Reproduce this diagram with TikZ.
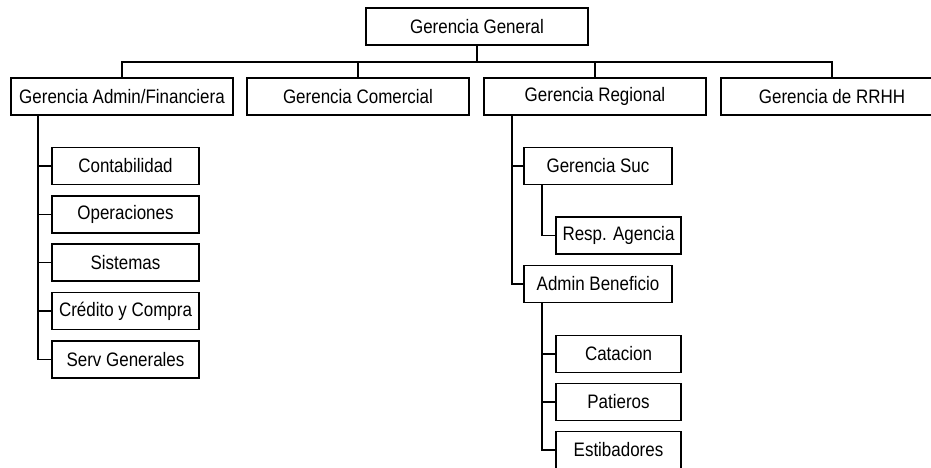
\documentclass[tikz,border=0pt]{standalone}
\usepackage{fontspec}
\setmainfont{Liberation Sans}
\newfontfamily\chartfont[FakeStretch=0.87]{Liberation Sans}
\begin{document}
\begin{tikzpicture}[x=1pt,y=-1pt,
  unit/.style={draw, line width=1.3pt, rectangle, inner sep=0pt,
    minimum height=37pt, font=\chartfont\fontsize{19.5}{22}\selectfont},
  top/.style={unit, minimum width=222pt},
  sub/.style={unit, minimum width=148pt},
  leaf/.style={unit, minimum width=125pt},
  link/.style={line width=1.3pt}]
\clip (0,0) rectangle (931,468);
\fill[white] (0,0) rectangle (931,468);

% head of the organisation
\node[top] (gg) at (477,26.5) {Gerencia General};

% managements
\node[top] (adm) at (122,96.5) {Gerencia Admin/Financiera};
\node[top] (com) at (358,96.5) {Gerencia Comercial};
\node[top] (reg) at (595,96.5) {Gerencia Regional};
\node[top] (rrhh) at (832,96.5) {Gerencia de RRHH};

\coordinate (bus) at (477,62);
\draw[link] (gg.south) -- (bus);
\foreach \n in {adm,com,reg,rrhh} \draw[link] (\n.north) |- (bus);

% administration / finance departments
\node[sub, minimum width=147pt] (cont) at (125.5,166) {Contabilidad};
\node[sub, minimum width=147pt] (oper) at (125.5,214.5) {Operaciones};
\node[sub, minimum width=147pt] (sist) at (125.5,262.5) {Sistemas};
\node[sub, minimum width=147pt] (cred) at (125.5,311) {Crédito y Compra};
\node[sub, minimum width=147pt] (serv) at (125.5,359.5) {Serv Generales};

\coordinate (admstem) at (38,115);
\foreach \n in {cont,oper,sist,cred,serv} \draw[link] (admstem) |- (\n.west);

% regional structure
\node[sub] (suc) at (598,166) {Gerencia Suc};
\node[sub] (ben) at (598,284) {Admin Beneficio};
\coordinate (regstem) at (512,115);
\foreach \n in {suc,ben} \draw[link] (regstem) |- (\n.west);

\node[leaf] (resp) at (618.5,235.5) {Resp. Agencia};
\coordinate (sucstem) at (542,184.5);
\draw[link] (sucstem) |- (resp.west);

\node[leaf] (cat) at (618.5,354) {Catacion};
\node[leaf] (pat) at (618.5,402) {Patieros};
\node[leaf] (est) at (618.5,450) {Estibadores};
\coordinate (benstem) at (542,302.5);
\foreach \n in {cat,pat,est} \draw[link] (benstem) |- (\n.west);
\end{tikzpicture}
\end{document}
